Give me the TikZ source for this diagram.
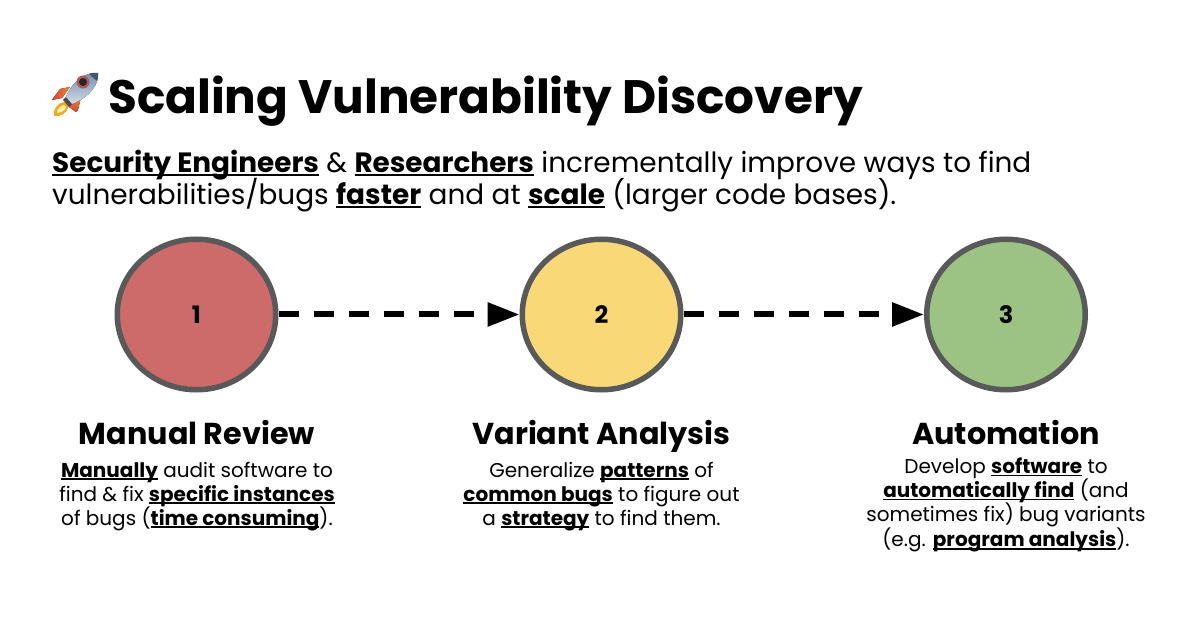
\documentclass[tikz,border=0pt]{standalone}
\usepackage{fontspec}
\setmainfont{Poppins}
\usetikzlibrary{shapes.geometric,arrows.meta}
\newsavebox{\ubbox}
\newcommand{\ub}[1]{\sbox{\ubbox}{\textbf{#1}}\leavevmode\rlap{\rule[-0.13em]{\wd\ubbox}{0.085em}}\usebox{\ubbox}}
\definecolor{ringgrey}{HTML}{595959}
\definecolor{cred}{HTML}{CD6A6A}
\definecolor{cyellow}{HTML}{F9D977}
\definecolor{cgreen}{HTML}{9DC384}
\definecolor{finred}{HTML}{D8402A}
\definecolor{finorange}{HTML}{F08A3C}
\definecolor{flameout}{HTML}{F5A623}
\definecolor{flamein}{HTML}{FFF0A0}
\definecolor{hullblue}{HTML}{6F8FB5}
\definecolor{hullsilver}{HTML}{D5DAE2}
\tikzset{
  stage/.style={ellipse,draw=ringgrey,line width=5.5pt,inner sep=0pt,minimum width=158.5pt,minimum height=150.5pt,font=\fontsize{24}{28}\selectfont\bfseries},
  flow/.style={draw=black,line width=6pt,dash pattern=on 20pt off 15pt,-{Triangle[length=32pt,width=23pt]}},
  head/.style={font=\fontsize{30.25}{36}\selectfont\bfseries,inner sep=0pt,anchor=base},
  desc/.style={font=\fontsize{20}{24}\selectfont,align=center,inner sep=0pt,anchor=north},
  lead/.style={font=\fontsize{27.9}{31}\selectfont,align=left,inner sep=0pt,anchor=north west},
}
\begin{document}
\begin{tikzpicture}[x=1pt,y=-1pt]
\useasboundingbox (0,0) rectangle (1200,628);
\fill[white] (0,0) rectangle (1200,628);
% rocket
\fill[left color=finred,right color=finorange] (70,87) -- (60,89) -- (52,100) -- (62,98) -- cycle;
\fill[top color=finorange,bottom color=finred] (81,97) -- (78,110) -- (76,112) -- (69,107) -- cycle;
\fill[flameout] (65,102) .. controls (57,103) and (53,109) .. (54,116) .. controls (61,117) and (67,113) .. (69,106) -- cycle;
\fill[flamein] (64,105) .. controls (60,106) and (57,109) .. (57,113) .. controls (61,113) and (65,111) .. (66,107) -- cycle;
\fill[black!70] (63,100) -- (67,96) -- (74,103) -- (69,107) -- cycle;
\fill[shading angle=45,top color=hullblue,bottom color=hullsilver] (98,73) .. controls (86,72) and (73,80) .. (66,97) -- (72,104) .. controls (88,98) and (99,86) .. (98,73) -- cycle;
\fill[hullblue!60!black] (98,73) .. controls (93,72.5) and (91,73) .. (89,74) .. controls (92,77) and (95,79) .. (97,81) .. controls (98,78) and (98.5,76) .. (98,73) -- cycle;
\fill[cred!85!black] (83,82) circle (6.5);
\fill[black!85] (83,82) circle (4);
\node[font=\fontsize{46.9}{56}\selectfont\bfseries,inner sep=0pt,anchor=base west] (title) at (108,114) {Scaling Vulnerability Discovery};
\node[lead] (lead) at (52,150) {\ub{Security Engineers} \& \ub{Researchers} incrementally improve ways to find\\[-3pt]vulnerabilities/bugs \ub{faster} and at \ub{scale} (larger code bases).};
\node[stage,fill=cred] (n1) at (196.5,314.5) {1};
\node[stage,fill=cyellow] (n2) at (601.5,314.5) {2};
\node[stage,fill=cgreen] (n3) at (1006,314.5) {3};
\draw[flow] (n1) -- (n2);
\draw[flow] (n2) -- (n3);
\node[head] (h1) at (197,444) {Manual Review};
\node[head] (h2) at (601.5,444) {Variant Analysis};
\node[head] (h3) at (1006,444) {Automation};
\node[desc] (d1) at (197,462) {\ub{Manually} audit software to\\find \& fix \ub{specific instances}\\of bugs (\ub{time consuming}).};
\node[desc] (d2) at (601.5,462) {Generalize \ub{patterns} of\\\ub{common bugs} to figure out\\a \ub{strategy} to find them.};
\node[desc] (d3) at (1006,458) {Develop \ub{software} to\\\ub{automatically find} (and\\sometimes fix) bug variants\\(e.g. \ub{program analysis}).};
\end{tikzpicture}
\end{document}
